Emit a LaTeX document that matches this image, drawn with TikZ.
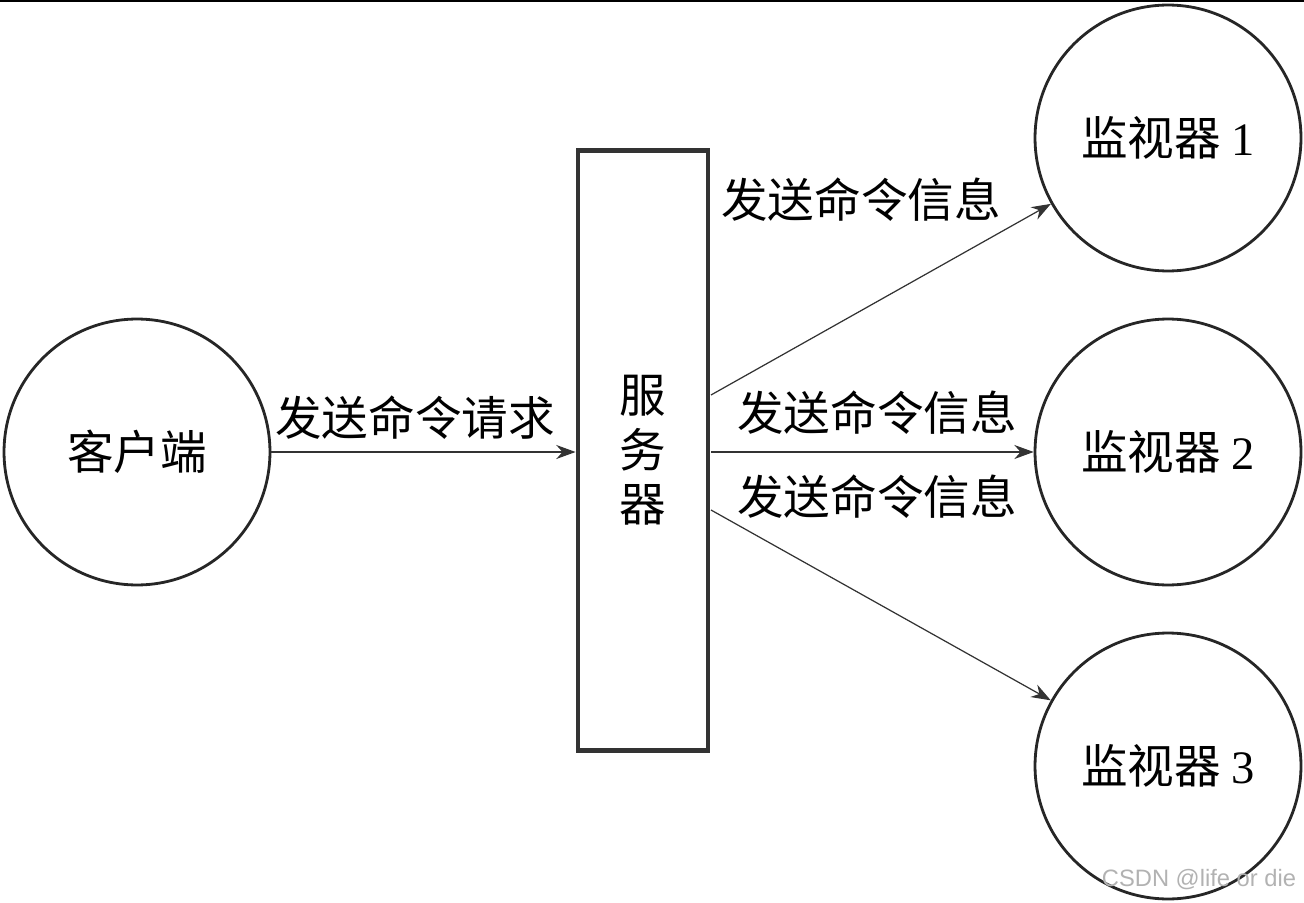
\documentclass[tikz,border=0pt]{standalone}
\usepackage{fontspec}
\setmainfont{Liberation Serif}
\newfontfamily\cjk{Noto Sans CJK SC}
\newfontfamily\wmfont{Liberation Sans}
\usetikzlibrary{arrows.meta}

\begin{document}
\begin{tikzpicture}[x=0.02cm, y=-0.02cm,
      party/.style={draw=black!85, circle, line width=1.6pt, minimum size=5.32cm,
        inner sep=0pt, font=\fontsize{26.5}{30}\selectfont\cjk},
      srv/.style={draw=black!80, line width=2.8pt, minimum width=2.6cm,
        minimum height=12cm, inner sep=0pt, align=center,
        font=\fontsize{26.5}{31}\selectfont\cjk},
      msg/.style={-{Stealth[length=11pt, width=8pt]}, line width=0.7pt, draw=black!80},
      etq/.style={font=\fontsize{26.5}{30}\selectfont\cjk, inner sep=0pt}
    ]
    \useasboundingbox (0,0) rectangle (1304,902);
    \draw[line width=1.2pt] (0,1) -- (1304,1);
    \node[party] (client) at (137,452)  {客户端};
    \node[srv]   (server) at (643,450.5) {服\\务\\器};
    \node[party] (mon1)   at (1168,138) {监视器 {\rmfamily 1}};
    \node[party] (mon2)   at (1168,452) {监视器 {\rmfamily 2}};
    \node[party] (mon3)   at (1168,766) {监视器 {\rmfamily 3}};
    \coordinate (s1) at (711,395);
    \coordinate (s2) at (711,452);
    \coordinate (s3) at (711,510);
    \draw[msg] (client) -- (client -| server.west);
    \draw[msg] (s1) -- (mon1);
    \draw[msg] (s2) -- (mon2);
    \draw[msg] (s3) -- (mon3);
    \node[etq] (lreq) at (415,418) {发送命令请求};
    \node[etq] (lm1)  at (861,200) {发送命令信息};
    \node[etq] (lm2)  at (877,413) {发送命令信息};
    \node[etq] (lm3)  at (877,497) {发送命令信息};
    \node[font=\fontsize{13.5}{16}\selectfont\wmfont, text=black!30, inner sep=0pt]
      (mark) at (1199,880) {CSDN @life or die};
  \end{tikzpicture}
\end{document}
